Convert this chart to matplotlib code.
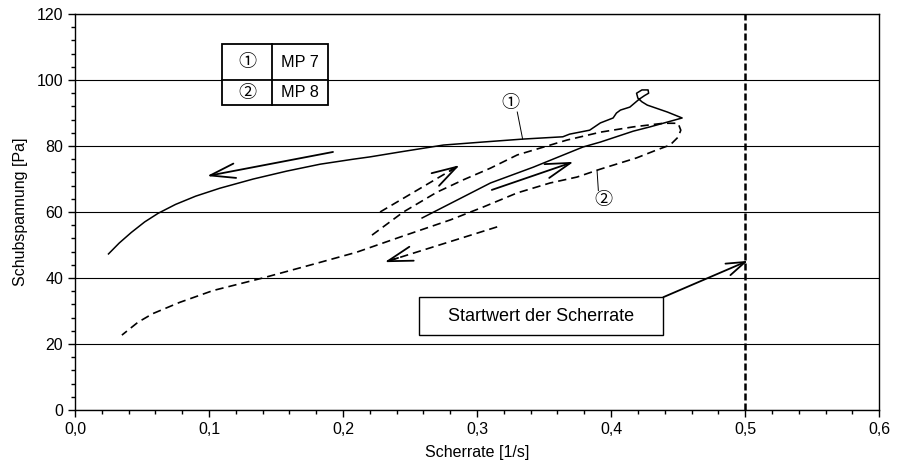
import matplotlib
matplotlib.use("Agg")
import matplotlib.pyplot as plt
from matplotlib.patches import Rectangle
from matplotlib.ticker import MultipleLocator, FuncFormatter

plt.rcParams["font.family"] = ["Liberation Sans", "DejaVu Sans"]

# MP 7 (solid): rising branch, turning loop, falling branch
mp7_x = [0.259, 0.285, 0.310, 0.342, 0.379, 0.392, 0.4165, 0.429, 0.453,
         0.442, 0.427, 0.423, 0.420, 0.419, 0.423, 0.4276, 0.428, 0.425, 0.421,
         0.414, 0.407, 0.404, 0.4015, 0.392, 0.384, 0.369, 0.364, 0.334, 0.304,
         0.275, 0.2425, 0.220, 0.2075, 0.183, 0.158, 0.133, 0.108, 0.090,
         0.075, 0.062, 0.052, 0.042, 0.033, 0.025]
mp7_y = [58.2, 63.6, 68.8, 73.6, 79.7, 81.2, 84.5, 85.8, 88.5,
         90.3, 92.4, 93.4, 94.5, 96.0, 97.0, 97.0, 96.0, 95.3, 94.2,
         91.8, 90.9, 90.0, 88.5, 87.0, 84.8, 83.6, 82.8, 82.1, 81.2,
         80.3, 78.2, 76.7, 76.0, 74.5, 72.4, 70.0, 67.2, 64.8,
         62.3, 59.6, 57.0, 53.8, 50.6, 47.3]

# MP 8 (dashed)
mp8_x = [0.2216, 0.245, 0.270, 0.290, 0.310, 0.330, 0.367, 0.392, 0.4165,
         0.439, 0.450, 0.452, 0.450, 0.444, 0.434, 0.419, 0.392, 0.3746,
         0.3545, 0.330, 0.3045, 0.280, 0.2425, 0.210, 0.178, 0.140, 0.103,
         0.078, 0.058, 0.047, 0.035]
mp8_y = [53.0, 60.0, 66.0, 69.8, 73.3, 77.3, 81.8, 84.2, 85.8,
         86.9, 86.9, 84.8, 82.7, 80.3, 78.8, 76.4, 73.0, 70.6,
         68.8, 65.8, 61.5, 57.6, 52.4, 47.8, 44.2, 40.0, 36.2,
         32.6, 29.2, 26.6, 22.7]

start_rate = 0.5
start_stress = 45.2

fig = plt.figure(figsize=(8.97, 4.71), dpi=100)
ax = fig.add_axes([0.0836, 0.1295, 0.8965, 0.8407])

ax.set_xlim(0, 0.6)
ax.set_ylim(0, 120)
ax.xaxis.set_major_locator(MultipleLocator(0.1))
ax.xaxis.set_minor_locator(MultipleLocator(0.02))
ax.yaxis.set_major_locator(MultipleLocator(20))
ax.yaxis.set_minor_locator(MultipleLocator(4))
ax.xaxis.set_major_formatter(FuncFormatter(lambda v, p: f"{v:.1f}".replace(".", ",")))
ax.tick_params(which="major", direction="out", length=5, width=1, labelsize=11.5, colors="black")
ax.tick_params(which="minor", direction="out", length=3, width=1)
ax.grid(axis="y", which="major", color="black", lw=0.8)
ax.set_axisbelow(True)
for s in ax.spines.values():
    s.set_linewidth(1)

ax.set_xlabel("Scherrate [1/s]", fontsize=11.5, labelpad=6)
ax.set_ylabel("Schubspannung [Pa]", fontsize=11.5, labelpad=6)

ax.plot(mp7_x, mp7_y, color="black", lw=1.1, zorder=3)
ax.plot(mp8_x, mp8_y, color="black", lw=1.2, dashes=(5, 3), zorder=3)

ax.axvline(start_rate, color="black", lw=1.8, dashes=(2.8, 1.2), zorder=3)

head = "->,head_length=1.2,head_width=0.35"


def arrow(tail, tip, dashed=False):
    if dashed:
        ax.plot([tail[0], tip[0]], [tail[1], tip[1]], color="black", lw=1.2,
                dashes=(5, 3), zorder=3)
        tail = (tip[0] + 0.12 * (tail[0] - tip[0]), tip[1] + 0.12 * (tail[1] - tip[1]))
    ax.annotate("", xy=tip, xytext=tail, zorder=4,
                arrowprops=dict(arrowstyle=head, mutation_scale=15, lw=1.3,
                                color="black", shrinkA=0, shrinkB=0))


arrow((0.1925, 78.2), (0.0985, 70.9))
arrow((0.311, 66.7), (0.372, 75.2))
arrow((0.2276, 60.0), (0.287, 74.2), dashed=True)
arrow((0.315, 55.5), (0.231, 44.8), dashed=True)

# curve labels with leader lines
circ_fam = ["DejaVu Serif", "Noto Sans CJK JP", "DejaVu Sans"]
ax.plot([0.330, 0.334], [90.3, 82.1], color="black", lw=0.7, zorder=3)
ax.text(0.3246, 92.9, "①", family=circ_fam, fontsize=13, ha="center", va="center", zorder=4)
ax.plot([0.3905, 0.3895], [66.5, 72.7], color="black", lw=0.7, zorder=3)
ax.text(0.394, 63.6, "②", family=circ_fam, fontsize=13, ha="center", va="center", zorder=4)

# legend table
x0, x1, xm = 0.110, 0.189, 0.147
y0, y1, ym = 92.4, 110.9, 100.0
ax.add_patch(Rectangle((x0, y0), x1 - x0, y1 - y0, facecolor="white",
                       edgecolor="black", lw=1.3, zorder=5))
ax.plot([xm, xm], [y0, y1], color="black", lw=1.3, zorder=6)
ax.plot([x0, x1], [ym, ym], color="black", lw=1.3, zorder=6)
ax.text((x0 + xm) / 2, (y1 + ym) / 2, "①", family=circ_fam, fontsize=13, ha="center", va="center", zorder=7)
ax.text((x0 + xm) / 2, (ym + y0) / 2, "②", family=circ_fam, fontsize=13, ha="center", va="center", zorder=7)
ax.text((xm + x1) / 2, (y1 + ym) / 2, "MP 7", fontsize=11.7, ha="center", va="center", zorder=7)
ax.text((xm + x1) / 2, (ym + y0) / 2, "MP 8", fontsize=11.7, ha="center", va="center", zorder=7)

# start value note
bx0, bx1, by0, by1 = 0.257, 0.439, 22.7, 34.2
ax.add_patch(Rectangle((bx0, by0), bx1 - bx0, by1 - by0, facecolor="white",
                       edgecolor="black", lw=1.0, zorder=5))
ax.text((bx0 + bx1) / 2, (by0 + by1) / 2, "Startwert der Scherrate", fontsize=13,
        ha="center", va="center", zorder=6)
ax.annotate("", xy=(start_rate + 0.002, start_stress), xytext=(bx1, by1), zorder=6,
            arrowprops=dict(arrowstyle="->,head_length=0.9,head_width=0.3",
                            mutation_scale=15, lw=1.3, color="black",
                            shrinkA=0, shrinkB=0))

fig.savefig("out.png", dpi=100)
